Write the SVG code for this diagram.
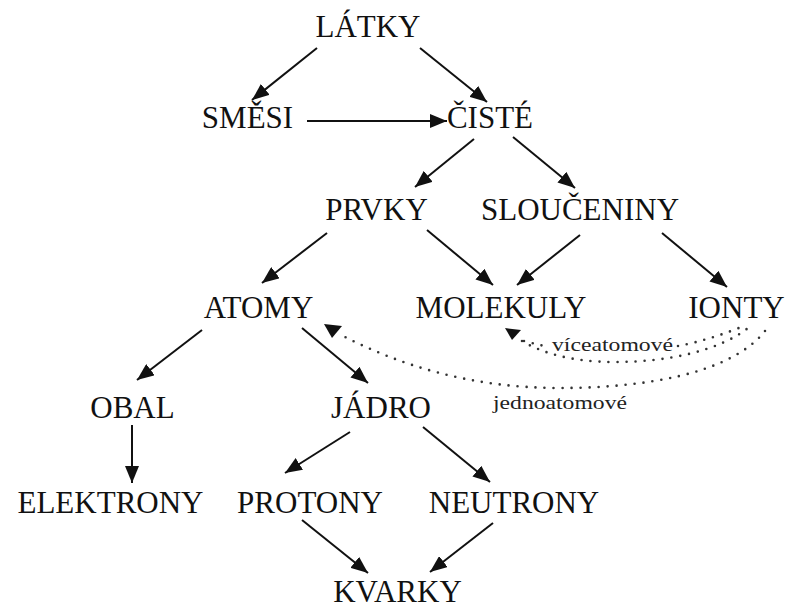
<svg xmlns="http://www.w3.org/2000/svg" width="788" height="608" viewBox="0 0 788 608">
<style>
.n{font-family:"Liberation Serif","Times New Roman",serif;font-size:31px;fill:#111;text-anchor:middle}
.l{font-family:"Liberation Serif","Times New Roman",serif;font-size:18.5px;fill:#222}
.a{stroke:#111;stroke-width:2;fill:none;marker-end:url(#ah)}
.d{stroke:#333;stroke-width:2.6;fill:none;stroke-dasharray:0 9;stroke-linecap:round}
</style>
<defs>
<marker id="ah" markerUnits="userSpaceOnUse" markerWidth="18" markerHeight="14" refX="17" refY="7" orient="auto">
<path d="M0,0 L17,7 L0,14 z" fill="#111"/>
</marker>
</defs>
<rect width="788" height="608" fill="#fff"/>
<g id="connectors">
<line class="a" x1="317" y1="48" x2="252" y2="100"/>
<line class="a" x1="420" y1="48" x2="487" y2="102"/>
<line class="a" x1="307" y1="121" x2="447" y2="121"/>
<line class="a" x1="474" y1="139" x2="415" y2="187"/>
<line class="a" x1="513" y1="137" x2="575" y2="188"/>
<line class="a" x1="327" y1="233" x2="262" y2="283"/>
<line class="a" x1="427" y1="230" x2="493" y2="285"/>
<line class="a" x1="580" y1="235" x2="517" y2="285"/>
<line class="a" x1="662" y1="233" x2="727" y2="287"/>
<line class="a" x1="202" y1="330" x2="137" y2="380"/>
<line class="a" x1="302" y1="328" x2="368" y2="383"/>
<line class="a" x1="132" y1="425" x2="132" y2="483"/>
<line class="a" x1="350" y1="432" x2="285" y2="473"/>
<line class="a" x1="423" y1="427" x2="490" y2="482"/>
<line class="a" x1="302" y1="520" x2="368" y2="573"/>
<line class="a" x1="493" y1="523" x2="430" y2="572"/>
<path class="d" d="M522,341 C540,352 570,362 615,362 C670,362 720,350 748,328"/>
<path class="d" d="M524,341 L548,347"/>
<path class="d" d="M678,346 C700,342 725,334 746,325"/>
<path class="d" d="M765,331 C730,375 640,388 560,388 C470,388 400,365 343,336"/>
<polygon points="505,328 521,330 512,340" fill="#111"/>
<polygon points="324,324 342,326 332,338" fill="#111"/>
<text class="l" x="552" y="351" textLength="121" lengthAdjust="spacingAndGlyphs">víceatomové</text>
<text class="l" x="493" y="409" textLength="134" lengthAdjust="spacingAndGlyphs">jednoatomové</text>
</g>
<g id="latky"><text class="n" x="368" y="37">LÁTKY</text></g>
<g id="smesi"><text class="n" x="247.5" y="128">SMĚSI</text></g>
<g id="ciste"><text class="n" x="490" y="128">ČISTÉ</text></g>
<g id="prvky"><text class="n" x="376.5" y="220">PRVKY</text></g>
<g id="slouceniny"><text class="n" x="580" y="220">SLOUČENINY</text></g>
<g id="atomy"><text class="n" x="258.5" y="318">ATOMY</text></g>
<g id="molekuly"><text class="n" x="501" y="318">MOLEKULY</text></g>
<g id="ionty"><text class="n" x="736.5" y="318">IONTY</text></g>
<g id="obal"><text class="n" x="132.5" y="418">OBAL</text></g>
<g id="jadro"><text class="n" x="381" y="418">JÁDRO</text></g>
<g id="elektrony"><text class="n" x="110.5" y="513">ELEKTRONY</text></g>
<g id="protony"><text class="n" x="310" y="513">PROTONY</text></g>
<g id="neutrony"><text class="n" x="514" y="513">NEUTRONY</text></g>
<g id="kvarky"><text class="n" x="397.5" y="602">KVARKY</text></g>
</svg>
